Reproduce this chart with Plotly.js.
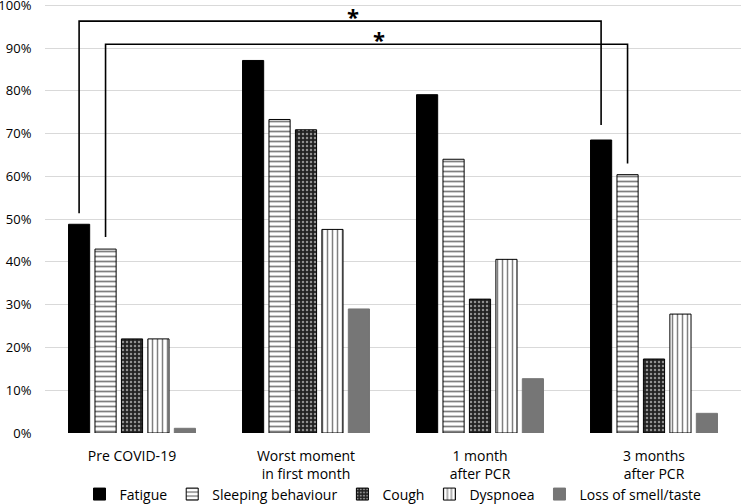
<!DOCTYPE html>
<html>
<head>
<meta charset="utf-8">
<script src="https://cdn.plot.ly/plotly-3.0.1.min.js"></script>
<style>
  html, body { margin: 0; padding: 0; background: #fff; }
  #grafico { width: 741px; height: 504px; }
</style>
</head>
<body>
<div id="grafico"></div>
<script>
// momentos (categorias del eje x)
const momentos = ["Pre COVID-19", "Worst moment<br>in first month", "1 month<br>after PCR", "3 months<br>after PCR"];

// porcentajes
const fatiga = [48.8, 87.1, 79.1, 68.5];
const sueno = [43.0, 73.3, 64.0, 60.4];
const tos = [22.0, 70.9, 31.3, 17.3];
const disnea = [22.0, 47.6, 40.6, 27.8];
const olfato = [1.1, 29.0, 12.7, 4.6];

const ticksY = [0, 10, 20, 30, 40, 50, 60, 70, 80, 90, 100];

const fuente = "Open Sans, sans-serif";

// geometria de las barras
const bargap = 0.24;
const nSeries = 5;
const anchoSlot = (1 - bargap) / nSeries;
function centroBarra(cat, serie) {
  return cat - (1 - bargap) / 2 + anchoSlot * (serie + 0.5);
}

const trazas = [
  {
    name: "Fatigue", y: fatiga,
    marker: { color: "#000", line: { color: "#000", width: 1 } }
  },
  {
    name: "Sleeping behaviour", y: sueno,
    marker: {
      color: "#fff",
      line: { color: "#000", width: 1 },
      pattern: { shape: "-", fgcolor: "#000", bgcolor: "#fff", size: 5, solidity: 0.35, fillmode: "overlay" }
    }
  },
  {
    name: "Cough", y: tos,
    marker: {
      color: "#222",
      line: { color: "#000", width: 1 },
      pattern: { shape: ".", fgcolor: "#fff", bgcolor: "#222", size: 4, solidity: 0.3, fillmode: "overlay" }
    }
  },
  {
    name: "Dyspnoea", y: disnea,
    marker: {
      color: "#fff",
      line: { color: "#000", width: 1 },
      pattern: { shape: "|", fgcolor: "#000", bgcolor: "#fff", size: 5, solidity: 0.3, fillmode: "overlay" }
    }
  },
  {
    name: "Loss of smell/taste", y: olfato,
    marker: { color: "#767676", line: { color: "#767676", width: 1 } }
  }
].map(t => Object.assign({ type: "bar", x: momentos, hoverinfo: "skip" }, t));

// corchetes de significancia (fatiga y sueno: pre vs 3 meses)
const linea = { color: "#000", width: 1.6 };
function corchete(serie, valores, yTop, gapIzq, gapDer) {
  const x0 = centroBarra(0, serie);
  const x1 = centroBarra(3, serie);
  return {
    type: "path", xref: "x", yref: "y", line: linea,
    path: `M ${x0} ${valores[0] + gapIzq} L ${x0} ${yTop} L ${x1} ${yTop} L ${x1} ${valores[3] + gapDer}`
  };
}

const formas = [
  corchete(0, fatiga, 96.3, 2.6, 3.5),
  corchete(1, sueno, 90.9, 2.8, 2.6)
];

const notas = [
  { x: 1.27, y: 97.4, text: "<b>*</b>" },
  { x: 1.42, y: 92.2, text: "<b>*</b>" }
].map(a => Object.assign({
  xref: "x", yref: "y", showarrow: false,
  font: { family: fuente, size: 22, color: "#000" }
}, a));

const layout = {
  width: 741,
  height: 504,
  margin: { l: 45, r: 0, t: 4, b: 71, autoexpand: false },
  paper_bgcolor: "#fff",
  plot_bgcolor: "#fff",
  barmode: "group",
  bargap: bargap,
  bargroupgap: 0.2,
  font: { family: fuente, size: 13, color: "#000" },
  showlegend: true,
  legend: {
    orientation: "h",
    x: 0.5, xanchor: "center",
    y: -0.106, yanchor: "top",
    bgcolor: "rgba(0,0,0,0)",
    font: { family: fuente, size: 14, color: "#000" },
    traceorder: "normal",
    itemwidth: 30
  },
  xaxis: {
    type: "category",
    tickfont: { family: fuente, size: 14, color: "#000" },
    showgrid: false,
    showline: false,
    ticks: "outside",
    ticklen: 10,
    tickcolor: "rgba(0,0,0,0)",
    fixedrange: true
  },
  yaxis: {
    range: [0, 100.3],
    tickvals: ticksY,
    ticktext: ticksY.map(v => v + "%"),
    tickfont: { family: fuente, size: 13, color: "#000" },
    ticklabeloverflow: "allow",
    showgrid: true,
    gridcolor: "#d9d9d9",
    gridwidth: 1,
    zeroline: false,
    showline: false,
    ticks: "outside",
    ticklen: 10,
    tickcolor: "rgba(0,0,0,0)",
    fixedrange: true
  },
  shapes: formas,
  annotations: notas
};

Plotly.newPlot("grafico", trazas, layout, { displayModeBar: false, staticPlot: true });
</script>
</body>
</html>
